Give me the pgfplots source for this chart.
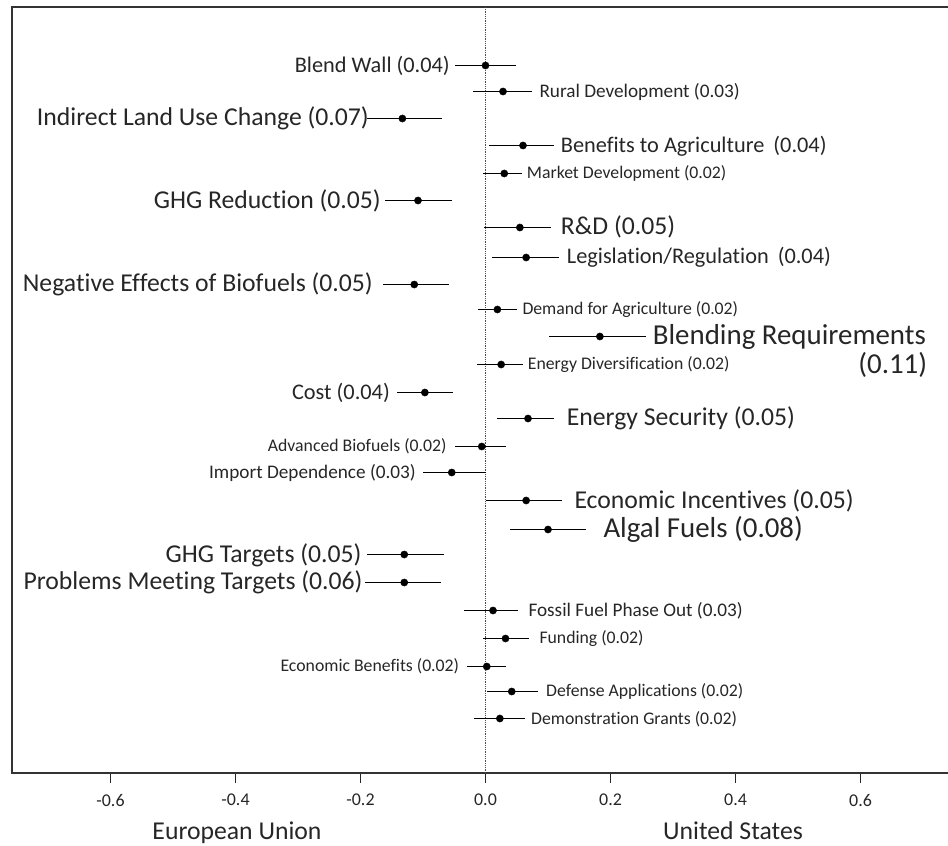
\documentclass[border=0pt]{standalone}
\usepackage{pgfplots}
\pgfplotsset{compat=1.18}
\usepackage{pgfplotstable}
\usepackage{fontspec}
\setmainfont{Carlito}[Ligatures=NoCommon]
\pgfplotstableread{
y lo pt hi
65.5 -0.049 0.000 0.049
91.5 -0.020 0.028 0.075
118.5 -0.190 -0.133 -0.070
145.5 0.006 0.060 0.110
173.5 -0.004 0.030 0.058
200.5 -0.161 -0.108 -0.053
227.5 -0.002 0.055 0.105
257.5 0.011 0.065 0.118
284.5 -0.164 -0.114 -0.058
309.5 -0.012 0.019 0.050
336.5 0.102 0.183 0.256
364.5 -0.014 0.025 0.060
392.5 -0.142 -0.097 -0.052
418.5 0.019 0.068 0.110
446.5 -0.049 -0.006 0.033
472.5 -0.100 -0.054 0.000
500.5 0.001 0.065 0.122
529.5 0.039 0.100 0.161
554.5 -0.190 -0.130 -0.067
582.5 -0.193 -0.130 -0.072
610.5 -0.034 0.012 0.052
638.5 -0.004 0.032 0.070
666.5 -0.030 0.002 0.033
691.5 0.002 0.042 0.084
718.5 -0.018 0.023 0.063
}\ci
\newcommand{\fsA}{\fontsize{17.8}{20}\selectfont}
\newcommand{\fsB}{\fontsize{19.3}{22}\selectfont}
\newcommand{\fsC}{\fontsize{22.4}{26}\selectfont}
\newcommand{\fsD}{\fontsize{25.8}{30}\selectfont}
\newcommand{\fsE}{\fontsize{29}{34}\selectfont}
\begin{document}
\begin{tikzpicture}
\begin{axis}[
  at={(12bp,73bp)}, anchor=south west,
  scale only axis, width=950bp, height=766bp,
  xmin=-0.7576, xmax=0.7624, ymin=7, ymax=773, y dir=reverse,
  ytick=\empty,
  xtick={-0.6,-0.4,-0.2,0,0.2,0.4,0.6},
  xticklabels={-0.6,-0.4,-0.2,0.0,0.2,0.4,0.6},
  xtick pos=bottom, tick align=outside,
  major tick length=10bp,
  tick style={line width=1.4bp, black!85},
  xticklabel style={font=\fontsize{18}{20}\selectfont, text=black!85, yshift=-11bp},
  axis line style={line width=1.6bp, black!80},
  clip=false,
]
\addplot[black!70, densely dotted, line width=0.8bp] coordinates {(0,7) (0,773)};
\addplot[only marks, mark=*, mark size=3.6bp, black,
  error bars/.cd, x dir=both, x explicit, error mark=none,
  error bar style={line width=1.2bp, black}]
  table[x=pt, y=y, x error plus expr=\thisrow{hi}-\thisrow{pt}, x error minus expr=\thisrow{pt}-\thisrow{lo}] {\ci};
\tikzset{every node/.style={inner sep=0pt, text=black!85}}
% EU labels
\node[anchor=east, xshift=-35.5bp] at (axis cs:0,65.7) {\fsC Blend Wall (0.04)};
\node[anchor=east, xshift=-116.5bp] at (axis cs:0,118.3) {\fsD Indirect Land Use Change (0.07)};
\node[anchor=east, xshift=-104.5bp] at (axis cs:0,201) {\fsD GHG Reduction (0.05)};
\node[anchor=east, xshift=-112.5bp] at (axis cs:0,284.3) {\fsD Negative Effects of Biofuels (0.05)};
\node[anchor=east, xshift=-95.5bp] at (axis cs:0,392.7) {\fsC Cost (0.04)};
\node[anchor=east, xshift=-38.8bp] at (axis cs:0,446.7) {\fsA Advanced Biofuels (0.02)};
\node[anchor=east, xshift=-69.5bp] at (axis cs:0,472.7) {\fsB Import Dependence (0.03)};
\node[anchor=east, xshift=-123.8bp] at (axis cs:0,555) {\fsD GHG Targets (0.05)};
\node[anchor=east, xshift=-122.8bp] at (axis cs:0,582.7) {\fsD Problems Meeting Targets (0.06)};
\node[anchor=east, xshift=-26.2bp] at (axis cs:0,666.7) {\fsA Economic Benefits (0.02)};
% US labels
\node[anchor=west, xshift=53.8bp] at (axis cs:0,91.7) {\fsB Rural Development (0.03)};
\node[anchor=west, xshift=75.2bp] at (axis cs:0,146) {\fsC Benefits to Agriculture\hspace{0.18em} (0.04)};
\node[anchor=west, xshift=41.2bp] at (axis cs:0,173.3) {\fsA Market Development (0.02)};
\node[anchor=west, xshift=75.2bp] at (axis cs:0,227.3) {\fsD R\&D (0.05)};
\node[anchor=west, xshift=81.2bp] at (axis cs:0,257.3) {\fsC Legislation/Regulation\hspace{0.18em} (0.04)};
\node[anchor=west, xshift=36.8bp] at (axis cs:0,309.3) {\fsA Demand for Agriculture (0.02)};
\node[anchor=west, xshift=167.2bp] at (axis cs:0,336.7) {\fsE Blending Requirements};
\node[anchor=east, xshift=441.8bp] at (axis cs:0,365) {\fsE (0.11)};
\node[anchor=west, xshift=42.2bp] at (axis cs:0,365) {\fsA Energy Diversification (0.02)};
\node[anchor=west, xshift=81.2bp] at (axis cs:0,418.3) {\fsD Energy Security (0.05)};
\node[anchor=west, xshift=88.8bp] at (axis cs:0,501) {\fsD Economic Incentives (0.05)};
\node[anchor=west, xshift=117.8bp] at (axis cs:0,529.3) {\fsE Algal Fuels (0.08)};
\node[anchor=west, xshift=42.8bp] at (axis cs:0,611) {\fsB Fossil Fuel Phase Out (0.03)};
\node[anchor=west, xshift=53.8bp] at (axis cs:0,638.3) {\fsA Funding (0.02)};
\node[anchor=west, xshift=60.5bp] at (axis cs:0,691.7) {\fsA Defense Applications (0.02)};
\node[anchor=west, xshift=45.5bp] at (axis cs:0,719) {\fsA Demonstration Grants (0.02)};
% axis titles
\node[anchor=base, xshift=-248.5bp] at (axis cs:0,839) {\fontsize{25.8}{30}\selectfont European Union};
\node[anchor=base, xshift=247.5bp] at (axis cs:0,839) {\fontsize{25.8}{30}\selectfont United States};
\end{axis}
\pgfresetboundingbox
\path (0,0) rectangle (948bp,846bp);
\end{tikzpicture}
\end{document}
